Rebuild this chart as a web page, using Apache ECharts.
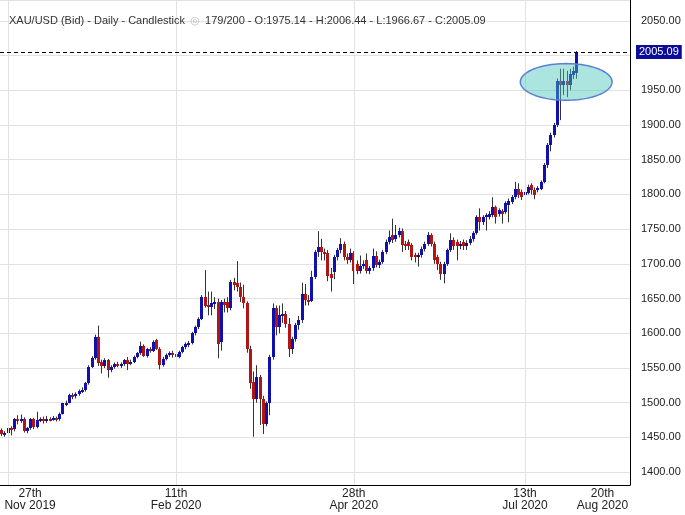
<!DOCTYPE html>
<html>
<head>
<meta charset="utf-8">
<script src="https://cdn.jsdelivr.net/npm/echarts@6/dist/echarts.min.js"></script>
<style>
  html, body { margin: 0; padding: 0; background: #fff; }
  #chart { width: 685px; height: 515px; }
</style>
</head>
<body>
<div id="chart"></div>
<script>
// XAU/USD daily candles: [open, close, low, high]
const candles = [
  [1460,1455,1452,1463],[1455,1457,1451,1459],[1457,1464,1454,1466],[1464,1462,1453,1466],[1462,1476,1459,1478],
  [1476,1474,1469,1482],[1474,1477,1471,1483],[1477,1459,1457,1479],[1459,1463,1456,1465],[1463,1476,1461,1478],
  [1476,1465,1462,1478],[1465,1475,1463,1487],[1475,1476,1472,1479],[1476,1474,1470,1480],[1474,1477,1471,1481],
  [1477,1476,1473,1479],[1476,1478,1474,1481],[1478,1476,1473,1480],[1476,1484,1474,1486],[1484,1499,1483,1500],
  [1499,1500,1495,1503],[1500,1511,1499,1513],[1511,1509,1505,1514],[1509,1513,1506,1515],[1513,1517,1510,1519],
  [1517,1519,1514,1522],[1519,1528,1516,1530],[1528,1552,1526,1554],[1552,1564,1550,1567],[1564,1595,1562,1598],
  [1595,1557,1553,1611],[1558,1553,1542,1562],[1553,1561,1550,1564],[1561,1547,1536,1563],[1547,1551,1544,1554],
  [1551,1556,1549,1558],[1556,1554,1551,1559],[1554,1556,1550,1558],[1556,1561,1553,1563],[1561,1556,1547,1566],
  [1556,1559,1554,1562],[1559,1566,1557,1568],[1566,1571,1564,1573],[1571,1581,1569,1588],[1581,1568,1566,1584],
  [1568,1577,1565,1579],[1577,1575,1572,1580],[1575,1588,1573,1590],[1590,1578,1576,1592],[1578,1554,1548,1580],
  [1554,1563,1552,1566],[1563,1569,1561,1571],[1569,1571,1566,1574],[1571,1570,1565,1575],[1570,1566,1561,1576],
  [1566,1573,1564,1575],[1573,1580,1571,1582],[1580,1584,1577,1587],[1584,1586,1580,1589],[1586,1600,1584,1602],
  [1600,1609,1597,1611],[1609,1621,1606,1623],[1621,1652,1619,1655],[1652,1640,1637,1691],[1641,1638,1626,1660],
  [1638,1643,1626,1660],[1643,1645,1635,1652],[1645,1585,1564,1650],[1588,1645,1575,1648],[1645,1641,1630,1650],
  [1645,1636,1630,1652],[1636,1674,1633,1677],[1674,1670,1662,1680],[1672,1667,1660,1704],[1667,1652,1645,1673],
  [1652,1643,1636,1670],[1643,1578,1572,1646],[1578,1528,1520,1582],[1530,1506,1451,1545],[1506,1537,1500,1554],
  [1537,1506,1468,1540],[1506,1470,1455,1510],[1470,1499,1466,1502],[1499,1566,1482,1569],[1566,1636,1562,1643],
  [1636,1609,1597,1640],[1609,1626,1600,1640],[1626,1628,1615,1643],[1628,1614,1608,1632],[1614,1577,1566,1622],
  [1577,1592,1570,1595],[1592,1612,1588,1615],[1612,1619,1605,1625],[1619,1657,1615,1673],[1657,1648,1640,1671],
  [1648,1647,1640,1655],[1647,1681,1645,1690],[1681,1717,1678,1720],[1717,1724,1710,1747],[1724,1717,1705,1736],
  [1717,1716,1705,1722],[1716,1683,1675,1720],[1686,1680,1660,1694],[1688,1710,1678,1713],[1710,1720,1705,1723],
  [1720,1728,1715,1737],[1729,1710,1705,1732],[1710,1705,1700,1715],[1705,1715,1702,1722],[1715,1690,1671,1718],
  [1700,1689,1685,1705],[1690,1697,1686,1712],[1697,1700,1693,1705],[1705,1689,1686,1715],[1689,1694,1685,1697],
  [1694,1712,1690,1722],[1712,1698,1695,1718],[1698,1702,1694,1706],[1702,1717,1700,1720],[1717,1732,1714,1735],
  [1732,1739,1728,1748],[1741,1735,1730,1765],[1736,1741,1732,1756],[1741,1748,1738,1752],[1748,1727,1717,1751],
  [1729,1725,1720,1733],[1731,1725,1720,1735],[1727,1710,1705,1730],[1713,1710,1702,1716],[1710,1713,1696,1716],
  [1713,1722,1709,1725],[1722,1729,1718,1732],[1729,1741,1726,1746],[1741,1729,1725,1744],[1729,1706,1700,1732],
  [1710,1700,1691,1713],[1700,1686,1677,1703],[1686,1700,1672,1703],[1700,1720,1697,1722],[1720,1735,1717,1744],
  [1735,1725,1720,1738],[1732,1725,1705,1735],[1725,1729,1721,1733],[1731,1725,1720,1735],[1725,1730,1720,1734],
  [1730,1736,1727,1740],[1736,1744,1732,1747],[1744,1767,1742,1770],[1767,1760,1748,1780],[1760,1767,1756,1770],
  [1767,1770,1748,1773],[1768,1772,1764,1776],[1770,1782,1767,1796],[1782,1768,1758,1784],[1772,1777,1768,1780],
  [1776,1772,1758,1779],[1775,1787,1772,1790],[1785,1791,1760,1794],[1789,1796,1786,1799],[1796,1808,1793,1818],
  [1808,1799,1795,1816],[1804,1796,1792,1807],[1799,1804,1795,1811],[1802,1811,1800,1814],[1813,1806,1800,1816],
  [1806,1799,1793,1810],[1806,1809,1803,1812],[1808,1818,1806,1820],[1818,1842,1816,1845],[1842,1871,1838,1874],
  [1871,1885,1862,1889],[1885,1900,1882,1903],[1900,1964,1897,1967],[1964,1957,1907,1981],[1957,1964,1943,1981],
  [1964,1957,1940,1978],[1957,1974,1950,1981],[1972,1978,1966,1984],[1975.14,2005.09,1966.67,2006.44]
];

// trading days: weekdays from the first candle, minus the days the feed skips
const firstDay = '2019-11-25';
const skippedDays = ['2019-12-25', '2020-01-01', '2020-07-03'];
const emptySlots = 16; // blank space right of the last candle

const tickDates = ['2019-11-27', '2020-02-11', '2020-04-28', '2020-07-13', '2020-08-20'];
const tickLabels = ['27th\nNov 2019', '11th\nFeb 2020', '28th\nApr 2020', '13th\nJul 2020', '20th\nAug 2020'];
const gridDates = ['2019-11-27', '2020-02-11', '2020-04-28', '2020-07-13'];

// highlighted area: [centre slot, centre price, half width in slots, half height in price]
const highlight = [174.75, 1962, 14.2, 26.4];

const priceMin = 1381.5;
const priceMax = 2080;

const FONT = '"Liberation Sans", Arial, sans-serif';
const UP = '#1010ae';
const DOWN = '#b31414';

function tradingDays(start, count) {
    const out = [];
    const d = new Date(start + 'T00:00:00Z');
    while (out.length < count) {
        const s = d.toISOString().slice(0, 10);
        const wd = d.getUTCDay();
        if (wd !== 0 && wd !== 6 && !skippedDays.includes(s)) out.push(s);
        d.setUTCDate(d.getUTCDate() + 1);
    }
    return out;
}

const days = tradingDays(firstDay, candles.length + emptySlots);

// labels at the plot edges are pushed inside like the original does
const edgePadding = {
    '2019-11-27': [0, 0, 0, 44],
    '2020-08-20': [0, 26, 0, 0]
};
const categories = days.map(d => edgePadding[d] ? { value: d, textStyle: { padding: edgePadding[d] } } : d);

const last = candles[candles.length - 1];
const f2 = v => v.toFixed(2);

const chart = echarts.init(document.getElementById('chart'), null, { renderer: 'canvas' });

chart.setOption({
    animation: false,
    backgroundColor: '#fff',
    textStyle: { fontFamily: FONT },
    title: {
        left: 9,
        top: 12,
        padding: 0,
        text: '{a|XAU/USD (Bid) - Daily - Candlestick} {e|◎} {a|' + candles.length + '/200 - O:' + f2(last[0]) +
              ' - H:' + f2(last[3]) + ' - L:' + f2(last[2]) + ' - C:' + f2(last[1]) + '}',
        textStyle: {
            fontWeight: 'normal',
            rich: {
                a: { fontSize: 11, color: '#333', fontWeight: 'normal', fontFamily: FONT },
                e: { fontSize: 11, color: '#b8b8b8', fontWeight: 'normal', fontFamily: FONT }
            }
        }
    },
    grid: { left: 0, right: 55, top: 0, bottom: 30, containLabel: false, outerBoundsMode: 'none' },
    xAxis: {
        type: 'category',
        data: categories,
        boundaryGap: true,
        axisLine: { lineStyle: { color: '#000', width: 1 } },
        axisTick: { show: false },
        splitLine: { show: false },
        axisLabel: {
            interval: (i, v) => tickDates.includes(v),
            formatter: v => tickLabels[tickDates.indexOf(v)] || '',
            color: '#222',
            fontSize: 12,
            lineHeight: 12,
            margin: 3,
            fontFamily: FONT
        }
    },
    yAxis: {
        type: 'value',
        position: 'right',
        min: priceMin,
        max: priceMax,
        splitNumber: 14,
        axisLine: { show: true, lineStyle: { color: '#000', width: 1 } },
        axisTick: { show: false },
        splitLine: { lineStyle: { color: '#e2e2e2' } },
        axisLabel: {
            showMinLabel: false,
            showMaxLabel: false,
            formatter: v => v.toFixed(2),
            color: '#222',
            fontSize: 11,
            margin: 11,
            fontFamily: FONT
        }
    },
    series: [
        {
            // vertical date grid lines
            type: 'line',
            data: [],
            z: 0,
            silent: true,
            markLine: {
                silent: true,
                symbol: ['none', 'none'],
                label: { show: false },
                lineStyle: { color: '#e2e2e2', type: 'solid', width: 1 },
                data: gridDates.map(d => ({ xAxis: d }))
            }
        },
        {
            type: 'custom',
            name: 'XAU/USD',
            z: 2,
            data: candles.map((c, i) => [i, c[0], c[1], c[2], c[3]]),
            encode: { x: 0, y: [1, 2, 3, 4] },
            renderItem(params, api) {
                const i = api.value(0);
                const o = api.value(1), c = api.value(2), lo = api.value(3), hi = api.value(4);
                const pO = api.coord([i, o]);
                const pC = api.coord([i, c]);
                const pL = api.coord([i, lo]);
                const pH = api.coord([i, hi]);
                // whole-pixel body so it reads as a solid block
                const left = Math.round(pO[0] - 1.5);
                const wx = left + 1.5;
                let top = Math.round(Math.min(pO[1], pC[1]));
                let bottom = Math.round(Math.max(pO[1], pC[1]));
                if (bottom - top < 2) { bottom = top + 2; }
                return {
                    type: 'group',
                    children: [
                        {
                            type: 'line',
                            shape: { x1: wx, y1: pL[1], x2: wx, y2: pH[1] },
                            style: { stroke: '#333', lineWidth: 1 }
                        },
                        {
                            type: 'rect',
                            shape: { x: left, y: top, width: 3, height: bottom - top },
                            style: { fill: c >= o ? UP : DOWN }
                        }
                    ]
                };
            },
            markLine: {
                silent: true,
                symbol: ['none', 'none'],
                lineStyle: { color: '#000', type: [4, 3], width: 1 },
                label: {
                    show: true,
                    position: 'end',
                    distance: 6,
                    formatter: p => f2(p.value),
                    color: '#fff',
                    backgroundColor: '#0b0b9c',
                    padding: [2, 3, 1, 3],
                    fontSize: 11,
                    fontFamily: FONT
                },
                data: [{ yAxis: last[1] }]
            }
        },
        {
            // drawn ellipse over the latest candles
            type: 'custom',
            z: 5,
            silent: true,
            data: [[Math.floor(highlight[0]), highlight[1]]],
            encode: { x: 0, y: 1 },
            renderItem(params, api) {
                const base = Math.floor(highlight[0]);
                const c = api.coord([base, highlight[1]]);
                const slot = api.size([1, 0])[0];
                const cx = c[0] + (highlight[0] - base) * slot;
                const rx = highlight[2] * slot;
                const ry = api.size([0, highlight[3]])[1];
                const pts = [];
                for (let k = 0; k < 96; k++) {
                    const t = k / 96 * Math.PI * 2;
                    pts.push([cx + rx * Math.cos(t), c[1] + ry * Math.sin(t)]);
                }
                return {
                    type: 'polygon',
                    shape: { points: pts },
                    style: { fill: 'rgba(70,196,186,0.45)', stroke: '#5b7fd6', lineWidth: 1.5 }
                };
            }
        }
    ]
});
</script>
</body>
</html>
